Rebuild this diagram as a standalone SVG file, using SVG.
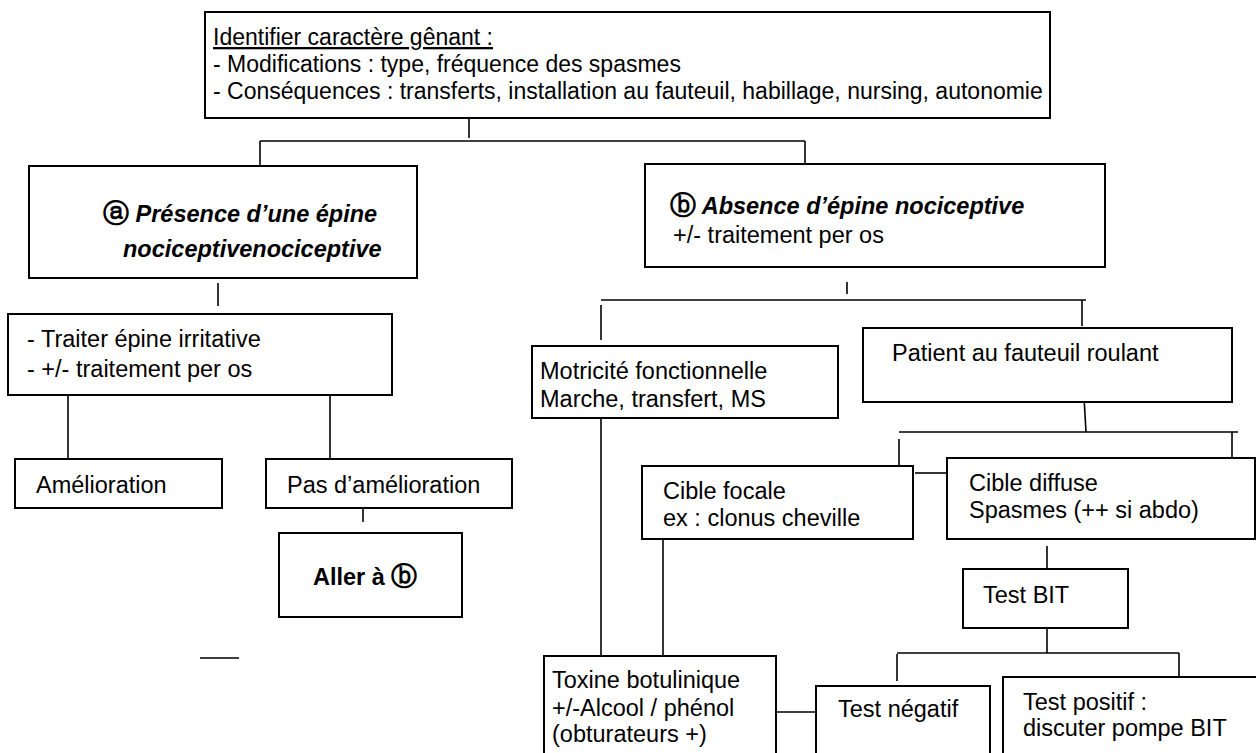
<svg xmlns="http://www.w3.org/2000/svg" width="1256" height="753" viewBox="0 0 1256 753">
<style>
  .box { fill: #fff; stroke: #000; stroke-width: 2; }
  .ln { fill: none; stroke: #000; stroke-width: 1.6; }
  text { font-family: "Liberation Sans", Arial, sans-serif; font-size: 23.5px; fill: #000; }
  .t23 { font-size: 23px; }
  .bi { font-weight: bold; font-style: italic; }
  .b { font-weight: bold; }
  .circ { font-family: "DejaVu Sans", sans-serif; font-style: normal; font-weight: bold; font-size: 26px; }
</style>
<rect width="1256" height="753" fill="#fff"/>
<g id="connectors">
  <path class="ln" d="M469 118 V138"/>
  <path class="ln" d="M260 141 H805"/>
  <path class="ln" d="M260 141 V166"/>
  <path class="ln" d="M805 141 V164"/>
  <path class="ln" d="M218 283 V306"/>
  <path class="ln" d="M68 395 V459"/>
  <path class="ln" d="M330 395 V464"/>
  <path class="ln" d="M363 508 V522"/>
  <path class="ln" d="M200 658 H239"/>
  <path class="ln" d="M847 282 V294"/>
  <path class="ln" d="M601 300 H1086"/>
  <path class="ln" d="M601 305 V340"/>
  <path class="ln" d="M1082 300 V326"/>
  <path class="ln" d="M1084 397 L1086 432"/>
  <path class="ln" d="M899 432 H1238"/>
  <path class="ln" d="M899 439 V465"/>
  <path class="ln" d="M1232 432 V457"/>
  <path class="ln" d="M915 473 H946"/>
  <path class="ln" d="M1047 546 V570"/>
  <path class="ln" d="M1047 628 V653"/>
  <path class="ln" d="M897 653 H1179"/>
  <path class="ln" d="M897 654 V681"/>
  <path class="ln" d="M1179 653 V677"/>
  <path class="ln" d="M601 418 V656"/>
  <path class="ln" d="M663 539 V656"/>
  <path class="ln" d="M776 712 H817"/>
</g>
<g id="top">
  <rect class="box" x="205" y="12" width="845" height="106"/>
  <text class="t23" x="213" y="45" text-decoration="underline">Identifier caractère gênant :</text>
  <text class="t23" x="213" y="72">- Modifications : type, fréquence des spasmes</text>
  <text class="t23" x="213" y="99">- Conséquences : transferts, installation au fauteuil, habillage, nursing, autonomie</text>
</g>
<g id="nodeA">
  <rect class="box" x="29" y="166" width="388" height="112"/>
  <text x="103" y="222" class="bi"><tspan class="circ">ⓐ</tspan> Présence d’une épine</text>
  <text x="123" y="257" class="bi">nociceptivenociceptive</text>
</g>
<g id="nodeB">
  <rect class="box" x="645" y="164" width="460" height="103"/>
  <text x="670" y="214" class="bi"><tspan class="circ">ⓑ</tspan> Absence d’épine nociceptive</text>
  <text x="673" y="243">+/- traitement per os</text>
</g>
<g id="traiter">
  <rect class="box" x="8" y="314" width="384" height="81"/>
  <text x="27" y="347">- Traiter épine irritative</text>
  <text x="27" y="377">- +/- traitement per os</text>
</g>
<g id="amelioration">
  <rect class="box" x="15" y="459" width="207" height="49"/>
  <text x="36" y="493">Amélioration</text>
</g>
<g id="pasAmelioration">
  <rect class="box" x="266" y="459" width="246" height="49"/>
  <text x="287" y="493">Pas d’amélioration</text>
</g>
<g id="allerB">
  <rect class="box" x="279" y="533" width="183" height="84"/>
  <text x="313" y="585" class="b">Aller à <tspan class="circ">ⓑ</tspan></text>
</g>
<g id="motricite">
  <rect class="box" x="532" y="346" width="306" height="72"/>
  <text x="540" y="379">Motricité fonctionnelle</text>
  <text x="540" y="407">Marche, transfert, MS</text>
</g>
<g id="patient">
  <rect class="box" x="863" y="328" width="369" height="74"/>
  <text x="892" y="361">Patient au fauteuil roulant</text>
</g>
<g id="cibleFocale">
  <rect class="box" x="642" y="466" width="271" height="73"/>
  <text x="663" y="499">Cible focale</text>
  <text x="663" y="526">ex : clonus cheville</text>
</g>
<g id="cibleDiffuse">
  <rect class="box" x="947" y="458" width="308" height="81"/>
  <text x="969" y="491">Cible diffuse</text>
  <text x="969" y="518">Spasmes (++ si abdo)</text>
</g>
<g id="testBIT">
  <rect class="box" x="963" y="569" width="165" height="59"/>
  <text x="983" y="603">Test BIT</text>
</g>
<g id="toxine">
  <rect class="box" x="544" y="656" width="232" height="110"/>
  <text x="552" y="688">Toxine botulinique</text>
  <text x="552" y="716">+/-Alcool / phénol</text>
  <text x="552" y="742">(obturateurs +)</text>
</g>
<g id="testNegatif">
  <rect class="box" x="816" y="686" width="174" height="80"/>
  <text x="838" y="717">Test négatif</text>
</g>
<g id="testPositif">
  <rect class="box" x="1003" y="677" width="260" height="90"/>
  <text x="1023" y="710">Test positif :</text>
  <text x="1023" y="736">discuter pompe BIT</text>
</g>
</svg>
